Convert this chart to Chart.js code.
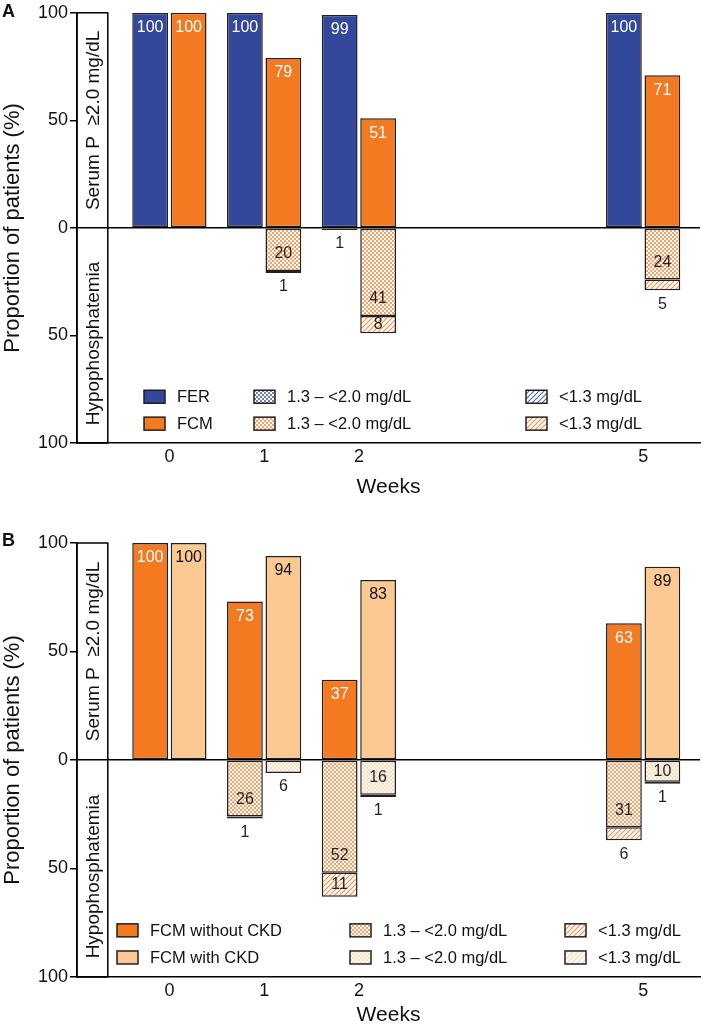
<!DOCTYPE html>
<html>
<head>
<meta charset="utf-8">
<script src="https://cdn.jsdelivr.net/npm/chart.js@4.4.0/dist/chart.umd.min.js"></script>
<style>
  body { margin: 0; background: #fff; width: 701px; height: 1029px; position: relative; overflow: hidden; }
  .panel { position: absolute; left: 0; }
  .tag { position: absolute; left: 2px; font: bold 18px "Liberation Sans", Arial, sans-serif; color: #111; }
</style>
</head>
<body>
<div class="panel" style="top:0"><canvas id="chartA" width="701" height="505"></canvas></div>
<div class="tag" style="top:1px">A</div>
<div class="panel" style="top:505px"><canvas id="chartB" width="701" height="524"></canvas></div>
<div class="tag" style="top:530px">B</div>

<script>
Chart.defaults.font.family = '"Liberation Sans", Arial, Helvetica, sans-serif';
Chart.defaults.color = '#111';

var weeks = [0, 1, 2, 5];
var yTicks = [-100, -50, 0, 50, 100];

// panel A: FER vs FCM (% of patients)
var ferNormal = [100, 100, 99, 100];
var ferMild = [null, null, 1, null];
var ferLow = [null, null, null, null];
var fcmNormal = [100, 79, 51, 71];
var fcmMild = [null, 20, 41, 24];
var fcmLow = [null, 1, 8, 5];

// panel B: FCM without / with CKD
var noCkdNormal = [100, 73, 37, 63];
var noCkdMild = [null, 26, 52, 31];
var noCkdLow = [null, 1, 11, 6];
var ckdNormal = [100, 94, 83, 89];
var ckdMild = [null, 6, 16, 10];
var ckdLow = [null, null, 1, 1];

var mildLabel = '1.3 \u2013 <2.0 mg/dL';
var lowLabel = '<1.3 mg/dL';
var topBoxText = 'Serum P  \u22652.0 mg/dL';
var bottomBoxText = 'Hypophosphatemia';

var blue = '#33479b';
var orange = '#f37a21';
var light = '#fdc993';
var edge = '#231f20';
var FONT = '"Liberation Sans", Arial, sans-serif';

// mix a hex colour with white (t = share of white)
function tint(hex, t) {
  var n = parseInt(hex.slice(1), 16);
  var r = (n >> 16) & 255, g = (n >> 8) & 255, b = n & 255;
  r = Math.round(r + (255 - r) * t); g = Math.round(g + (255 - g) * t); b = Math.round(b + (255 - b) * t);
  return 'rgb(' + r + ',' + g + ',' + b + ')';
}

function checker(color) {
  var c = document.createElement('canvas');
  c.width = 4; c.height = 4;
  var g = c.getContext('2d');
  g.fillStyle = '#fff'; g.fillRect(0, 0, 4, 4);
  g.fillStyle = tint(color, 0.3); g.fillRect(0, 0, 2, 2); g.fillRect(2, 2, 2, 2);
  return g.createPattern(c, 'repeat');
}

function hatch(color) {
  var s = 5;
  var c = document.createElement('canvas');
  c.width = s; c.height = s;
  var g = c.getContext('2d');
  g.fillStyle = '#fff'; g.fillRect(0, 0, s, s);
  g.strokeStyle = tint(color, 0.15); g.lineWidth = 1.1;
  g.beginPath();
  g.moveTo(-1, s + 1); g.lineTo(s + 1, -1);
  g.moveTo(-1, 1); g.lineTo(1, -1);
  g.moveTo(s - 1, s + 1); g.lineTo(s + 1, s - 1);
  g.stroke();
  return g.createPattern(c, 'repeat');
}

function pts(vals, sign) {
  return weeks.map(function (w, i) {
    return { x: w, y: vals[i] == null ? null : sign * vals[i] };
  });
}

function group(stack, label, color, textColor, normal, mild, low) {
  var common = { stack: stack, borderColor: edge, borderWidth: 1.5, borderSkipped: false,
                 categoryPercentage: 0.812, barPercentage: 0.93 };
  return [
    Object.assign({ label: label, kind: 'normal', data: pts(normal, 1), backgroundColor: color, textColor: textColor }, common),
    Object.assign({ label: mildLabel, kind: 'mild', data: pts(mild, -1), backgroundColor: checker(color) }, common),
    Object.assign({ label: lowLabel, kind: 'low', data: pts(low, -1), backgroundColor: hatch(color) }, common)
  ];
}

// white box at the left with the two rotated captions
var panelBox = {
  id: 'panelBox',
  afterDatasetsDraw: function (chart) {
    var a = chart.chartArea, c = chart.ctx;
    var x0 = a.left, x1 = chart.scales.x.getPixelForValue(-0.65);
    var y0 = chart.scales.y.getPixelForValue(0);
    c.save();
    c.strokeStyle = '#000'; c.lineWidth = 1.5;
    c.strokeRect(x0, a.top, x1 - x0, a.bottom - a.top);
    c.fillStyle = '#111';
    c.font = '19px ' + FONT;
    c.textAlign = 'center'; c.textBaseline = 'middle';
    c.save();
    c.translate((x0 + x1) / 2 + 1, (a.top + y0) / 2);
    c.rotate(-Math.PI / 2);
    c.fillText(topBoxText, 0, 0);
    c.restore();
    c.save();
    c.translate((x0 + x1) / 2 + 1, (y0 + a.bottom) / 2 + 8);
    c.rotate(-Math.PI / 2);
    c.fillText(bottomBoxText, 0, 0);
    c.restore();
    c.restore();
  }
};

// numbers on / under the bars
var barLabels = {
  id: 'barLabels',
  afterDatasetsDraw: function (chart) {
    var c = chart.ctx;
    var bottoms = {}, counts = {};
    chart.data.datasets.forEach(function (ds, di) {
      chart.getDatasetMeta(di).data.forEach(function (bar, i) {
        var v = ds.data[i].y;
        if (v == null || v >= 0) return;
        var key = ds.stack + '_' + i;
        bottoms[key] = Math.max(bottoms[key] || 0, Math.max(bar.y, bar.base));
      });
    });
    c.save();
    c.font = '16px ' + FONT;
    c.textAlign = 'center'; c.textBaseline = 'middle';
    chart.data.datasets.forEach(function (ds, di) {
      chart.getDatasetMeta(di).data.forEach(function (bar, i) {
        var v = ds.data[i].y;
        if (v == null) return;
        var top = Math.min(bar.y, bar.base), bot = Math.max(bar.y, bar.base);
        var h = bot - top, n = Math.abs(v), key = ds.stack + '_' + i;
        var below = false, y;
        if (ds.kind === 'normal') {
          c.fillStyle = ds.textColor;
          y = top + 15;
        } else if (ds.kind === 'mild') {
          c.fillStyle = edge;
          if (n >= 10) y = bot - Math.min(17, h / 2); else below = true;
        } else {
          c.fillStyle = edge;
          if (n >= 8) y = (top + bot) / 2; else below = true;
        }
        if (below) {
          counts[key] = (counts[key] || 0) + 1;
          y = bottoms[key] + 14 + 16 * (counts[key] - 1);
          c.fillStyle = edge;
        }
        c.fillText(String(n), bar.x, y);
      });
    });
    c.restore();
  }
};

// legend drawn inside the plot, 2 rows x 3 columns
var panelLegend = {
  id: 'panelLegend',
  afterDatasetsDraw: function (chart, args, opts) {
    var c = chart.ctx, a = chart.chartArea, ys = chart.scales.y;
    c.save();
    c.font = '16.5px ' + FONT;
    c.textAlign = 'left'; c.textBaseline = 'middle';
    chart.data.datasets.forEach(function (ds, di) {
      var row = Math.floor(di / 3), col = di % 3;
      var bx = a.left + opts.cols[col];
      var by = ys.getPixelForValue(opts.rows[row]);
      c.fillStyle = ds.backgroundColor;
      c.fillRect(bx, by - 6.5, 21, 13);
      c.strokeStyle = edge; c.lineWidth = 1.5;
      c.strokeRect(bx, by - 6.5, 21, 13);
      c.fillStyle = '#111';
      c.fillText(ds.label, bx + 33, by + 1);
    });
    c.restore();
  }
};

function drawPanel(id, datasets, p) {
  var ctx = document.getElementById(id);
  return new Chart(ctx, {
    type: 'bar',
    data: { datasets: datasets },
    options: {
      responsive: false,
      animation: false,
      layout: { padding: { top: p.top, right: 1, left: 0, bottom: 0 } },
      plugins: {
        legend: { display: false },
        tooltip: { enabled: false },
        panelLegend: { cols: p.legendCols, rows: [-78.5, -91] }
      },
      scales: {
        x: {
          type: 'linear', min: -0.975, max: 5.6, offset: false,
          grid: { display: false, drawTicks: false, offset: false },
          border: { display: true, color: '#000', width: 1.5 },
          afterBuildTicks: function (s) { s.ticks = weeks.map(function (v) { return { value: v }; }); },
          ticks: { padding: 3, color: '#111', font: { size: 18 } },
          title: { display: true, text: 'Weeks', color: '#111', font: { size: 21 }, padding: { top: 0, bottom: p.titlePad } },
          afterFit: function (s) { s.height = p.xHeight; }
        },
        y: {
          stacked: true, min: -100, max: 100,
          afterBuildTicks: function (s) { s.ticks = yTicks.map(function (v) { return { value: v }; }); },
          ticks: { padding: 2, color: '#111', font: { size: 18 }, callback: function (v) { return Math.abs(v); } },
          grid: {
            color: function (c) { return c.tick && c.tick.value === 0 ? '#000' : 'rgba(0,0,0,0)'; },
            lineWidth: 1.5, tickColor: '#000', tickLength: 7, tickWidth: 1.5
          },
          border: { display: true, color: '#000', width: 1.5 },
          title: { display: true, text: 'Proportion of patients (%)', color: '#111', font: { size: 22 }, padding: 0 },
          afterFit: function (s) { s.width = 77; }
        }
      }
    },
    plugins: [panelBox, barLabels, panelLegend]
  });
}

var dsA = group('a', 'FER', blue, '#fff', ferNormal, ferMild, ferLow)
  .concat(group('b', 'FCM', orange, '#fff', fcmNormal, fcmMild, fcmLow));
var dsB = group('a', 'FCM without CKD', orange, '#fff', noCkdNormal, noCkdMild, noCkdLow)
  .concat(group('b', 'FCM with CKD', light, '#111', ckdNormal, ckdMild, ckdLow));

drawPanel('chartA', dsA, { top: 10, xHeight: 62, titlePad: 5, legendCols: [67, 177, 449] });
drawPanel('chartB', dsB, { top: 38, xHeight: 52, titlePad: 1, legendCols: [40, 273, 488] });
</script>
</body>
</html>
